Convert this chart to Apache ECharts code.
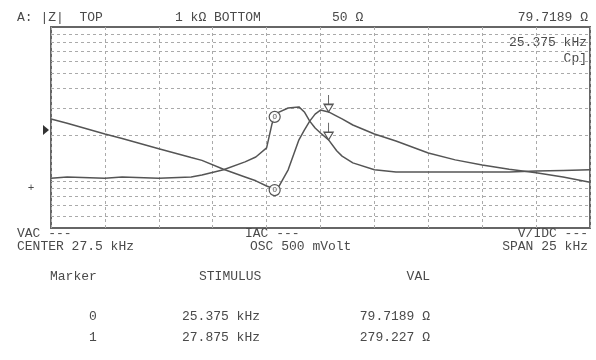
<!DOCTYPE html>
<html>
<head>
<meta charset="utf-8">
<script src="https://cdn.jsdelivr.net/npm/echarts@6/dist/echarts.min.js"></script>
<style>
  html, body { margin: 0; padding: 0; background: #fff; }
  #chart { width: 596px; height: 360px; }
</style>
</head>
<body>
<div id="chart"></div>
<script>
// 频率 (kHz)，中心 27.5 kHz，span 25 kHz
const freq = [15, 15.75, 17.5, 18.3, 20, 21.5, 22, 23, 24, 24.5, 25, 25.25, 25.375, 25.5, 26, 26.5, 26.75,
  27, 27.25, 27.5, 27.875, 28.25, 28.5, 29, 30, 31, 32.5, 33.75, 35, 36.25, 37.5, 38.75, 40];
// 迹线 A: |Z| (Ω)
const traceA = [254, 238, 203, 190, 163, 143, 137, 120, 107, 101, 93.5, 90.8, 88, 89.4, 119, 186, 215,
  246, 273, 290, 282, 265, 254, 232, 203, 183, 153, 138, 128, 120, 114, 107, 99];
// 迹线 B (同一刻度下读取)
const traceB = [105, 107, 105, 107, 105, 107, 110, 119, 134, 144, 165, 236, 262, 278, 299, 304, 282,
  246, 222, 206, 186, 158, 146, 132, 119, 115, 115, 115, 115, 115, 117, 118, 119];
// 对数网格线位置
const gridVals = [60, 70, 80, 90, 100, 200, 300, 400, 500, 600, 700, 800, 900];
// 标记
const markerNo = ["0", "1"];
const markerStim = [25.375, 27.875];
const markerStimText = ["25.375 kHz", "27.875 kHz"];
const markerValText = ["79.7189 Ω", "279.227 Ω"];

const chart = echarts.init(document.getElementById("chart"));

const FONT = "'Liberation Mono', 'DejaVu Sans Mono', monospace";
const INK = "#4a4a4a";

const txt = (text, x, y, align, size) => ({
  type: "text",
  x: x,
  y: y,
  style: {
    text: text,
    fill: INK,
    font: (size || 13) + "px " + FONT,
    textAlign: align || "left",
    textVerticalAlign: "middle",
  },
});

const circleMark = (stim, arr) => ({
  coord: [stim, arr[freq.indexOf(stim)]],
  symbol: "circle",
  symbolSize: 11,
  itemStyle: { color: "rgba(255,255,255,0.9)", borderColor: "#555", borderWidth: 1.2 },
  label: { show: true, formatter: markerNo[0], fontSize: 8, color: "#555", position: "inside" },
});

const arrowMark = (stim, arr) => ({
  coord: [stim, arr[freq.indexOf(stim)]],
  symbol: "path://M5,0 L5,10 M0,10 L10,10 L5,18 Z",
  symbolSize: [9, 17],
  symbolOffset: [0, "-50%"],
  itemStyle: { color: "#fff", borderColor: "#555", borderWidth: 1.2 },
  label: { show: false },
});

const lineStyle = { color: "#555", width: 1.5 };

const option = {
  animation: false,
  backgroundColor: "#fff",
  grid: {
    left: 51,
    top: 27,
    width: 539,
    height: 201,
    show: true,
    borderColor: "#666",
    borderWidth: 2,
    backgroundColor: "transparent",
  },
  xAxis: {
    type: "value",
    min: 15,
    max: 40,
    interval: 2.5,
    axisLine: { show: false },
    axisTick: { show: false },
    axisLabel: { show: false },
    splitLine: { show: true, lineStyle: { type: [3, 3], color: "#aaa", width: 1 } },
  },
  yAxis: {
    type: "log",
    logBase: 10,
    min: 50,
    max: 1000,
    axisLine: { show: false },
    axisTick: { show: false },
    axisLabel: { show: false },
    splitLine: { show: false },
  },
  series: [
    {
      name: "|Z|",
      type: "line",
      data: freq.map((f, i) => [f, traceA[i]]),
      symbol: "none",
      lineStyle: lineStyle,
      z: 3,
      markLine: {
        silent: true,
        symbol: ["none", "none"],
        label: { show: false },
        lineStyle: { type: [3, 3], color: "#aaa", width: 1 },
        data: gridVals.map((v) => ({ yAxis: v })),
        z: 1,
      },
      markPoint: {
        silent: true,
        data: [circleMark(markerStim[0], traceA), arrowMark(markerStim[1], traceA)],
      },
    },
    {
      name: "Cp",
      type: "line",
      data: freq.map((f, i) => [f, traceB[i]]),
      symbol: "none",
      lineStyle: lineStyle,
      z: 3,
      markPoint: {
        silent: true,
        data: [circleMark(markerStim[0], traceB), arrowMark(markerStim[1], traceB)],
      },
    },
  ],
  graphic: [
    txt("A: |Z|  TOP", 17, 18),
    txt("1 kΩ BOTTOM", 175, 18),
    txt("50 Ω", 332, 18),
    txt("79.7189 Ω", 588, 18, "right"),
    txt("25.375 kHz", 587, 43, "right"),
    txt("Cp]", 587, 59, "right"),
    { type: "polygon", shape: { points: [[43, 125], [49, 130], [43, 135]] }, style: { fill: "#333" } },
    txt("+", 31, 188, "center", 11),
    txt("VAC ---", 17, 234),
    txt("CENTER 27.5 kHz", 17, 247),
    txt("IAC ---", 245, 234),
    txt("OSC 500 mVolt", 250, 247),
    txt("V/IDC ---", 588, 234, "right"),
    txt("SPAN 25 kHz", 588, 247, "right"),
    txt("Marker", 50, 277),
    txt("STIMULUS", 199, 277),
    txt("VAL", 430, 277, "right"),
    txt(markerNo[0], 93, 317, "center"),
    txt(markerStimText[0], 182, 317),
    txt(markerValText[0], 430, 317, "right"),
    txt(markerNo[1], 93, 338, "center"),
    txt(markerStimText[1], 182, 338),
    txt(markerValText[1], 430, 338, "right"),
  ],
};

chart.setOption(option);

window.addEventListener("resize", () => {
  chart.resize();
});
</script>
</body>
</html>
